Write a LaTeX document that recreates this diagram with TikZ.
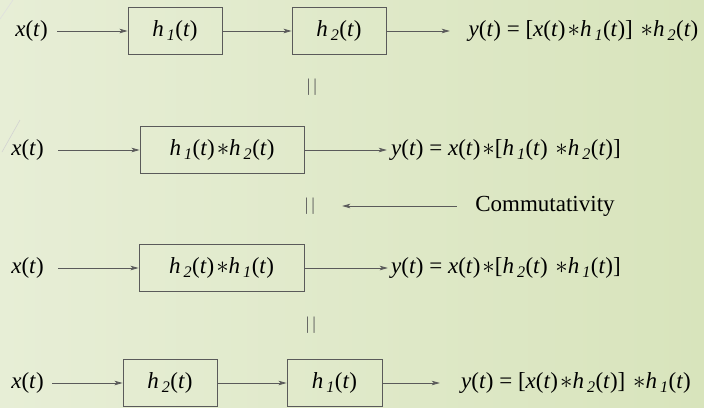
\documentclass[tikz,border=0pt]{standalone}
\usepackage{fontspec}
\setmainfont{Liberation Serif}
\usetikzlibrary{arrows.meta, positioning}

\definecolor{bgleft}{RGB}{231,238,214}
\definecolor{bgmid}{RGB}{252,252,247}
\definecolor{bgright}{RGB}{216,228,188}
\definecolor{linegray}{RGB}{90,90,90}

\newcommand{\sig}[1]{\textit{#1}(\textit{t})}
\newcommand{\imp}[1]{\textit{h}\kern3pt\textsubscript{\textit{#1}}(\textit{t})}
\newcommand{\cv}{\hspace{2pt}$\ast$}

\begin{document}
\begin{tikzpicture}[
    x=1pt, y=-1pt,
    font=\fontsize{23}{26}\selectfont,
    blk/.style={rectangle, draw=linegray, line width=0.9pt, minimum height=47pt, inner sep=0pt},
    txt/.style={inner xsep=0pt, inner ysep=2pt},
    eqs/.style={inner xsep=0pt, text=linegray, font=\fontsize{18}{20}\selectfont},
    arrow/.style={draw=linegray, line width=0.8pt, -{Stealth[length=8pt,width=4.5pt,inset=2pt]}}
]
% background
\shade[left color=bgleft, middle color=bgmid, right color=bgright] (0,0) rectangle (704,407);
\useasboundingbox (0,0) rectangle (704,407);
\draw[gray!25, line width=0.6pt] (0,19) -- (13,0);
\draw[gray!35, line width=0.6pt] (2,152) -- (20,120);

% cascade h1 then h2
\node (xa) [txt, minimum width=51pt] at (31.5,31) {\sig{x}};
\node (ha) [blk, minimum width=94pt] at (175,31) {\imp{1}};
\node (hb) [blk, minimum width=94pt] at (339,31) {\imp{2}};
\node (ya) [txt, minimum width=267pt] at (583.5,31) {\sig{y} = [\sig{x}\cv\imp{1}] \cv\imp{2}};

\draw [arrow] (xa) -- (ha);
\draw [arrow] (ha) -- (hb);
\draw [arrow] (hb) -- (ya);

\node (eqa) [eqs] at (312,87) {|\hspace{3pt}|};

% single block h1*h2
\node (xb) [txt, minimum width=61pt] at (27.5,150) {\sig{x}};
\node (hc) [blk, minimum width=164pt] at (222,150) {\imp{1}\cv\imp{2}};
\node (yb) [txt, minimum width=238pt] at (506,150) {\sig{y} = \sig{x}\cv[\imp{1} \cv\imp{2}]};

\draw [arrow] (xb) -- (hc);
\draw [arrow] (hc) -- (yb);

\node (eqb) [eqs, minimum width=64pt] at (310,206) {|\hspace{3pt}|};
\node (comm) [txt, minimum width=176pt] at (545,206) {Commutativity};
\draw [arrow] (comm) -- (eqb);

% single block h2*h1
\node (xc) [txt, minimum width=61pt] at (27.5,268) {\sig{x}};
\node (hd) [blk, minimum width=165pt] at (221.5,268) {\imp{2}\cv\imp{1}};
\node (yc) [txt, minimum width=236pt] at (506,268) {\sig{y} = \sig{x}\cv[\imp{2} \cv\imp{1}]};

\draw [arrow] (xc) -- (hd);
\draw [arrow] (hd) -- (yc);

\node (eqc) [eqs] at (311,325) {|\hspace{3pt}|};

% cascade h2 then h1
\node (xd) [txt, minimum width=49pt] at (27.5,383) {\sig{x}};
\node (he) [blk, minimum width=94pt] at (170,383) {\imp{2}};
\node (hf) [blk, minimum width=95pt] at (334.5,383) {\imp{1}};
\node (yd) [txt, minimum width=272pt] at (576,383) {\sig{y} = [\sig{x}\cv\imp{2}] \cv\imp{1}};

\draw [arrow] (xd) -- (he);
\draw [arrow] (he) -- (hf);
\draw [arrow] (hf) -- (yd);

\end{tikzpicture}
\end{document}
